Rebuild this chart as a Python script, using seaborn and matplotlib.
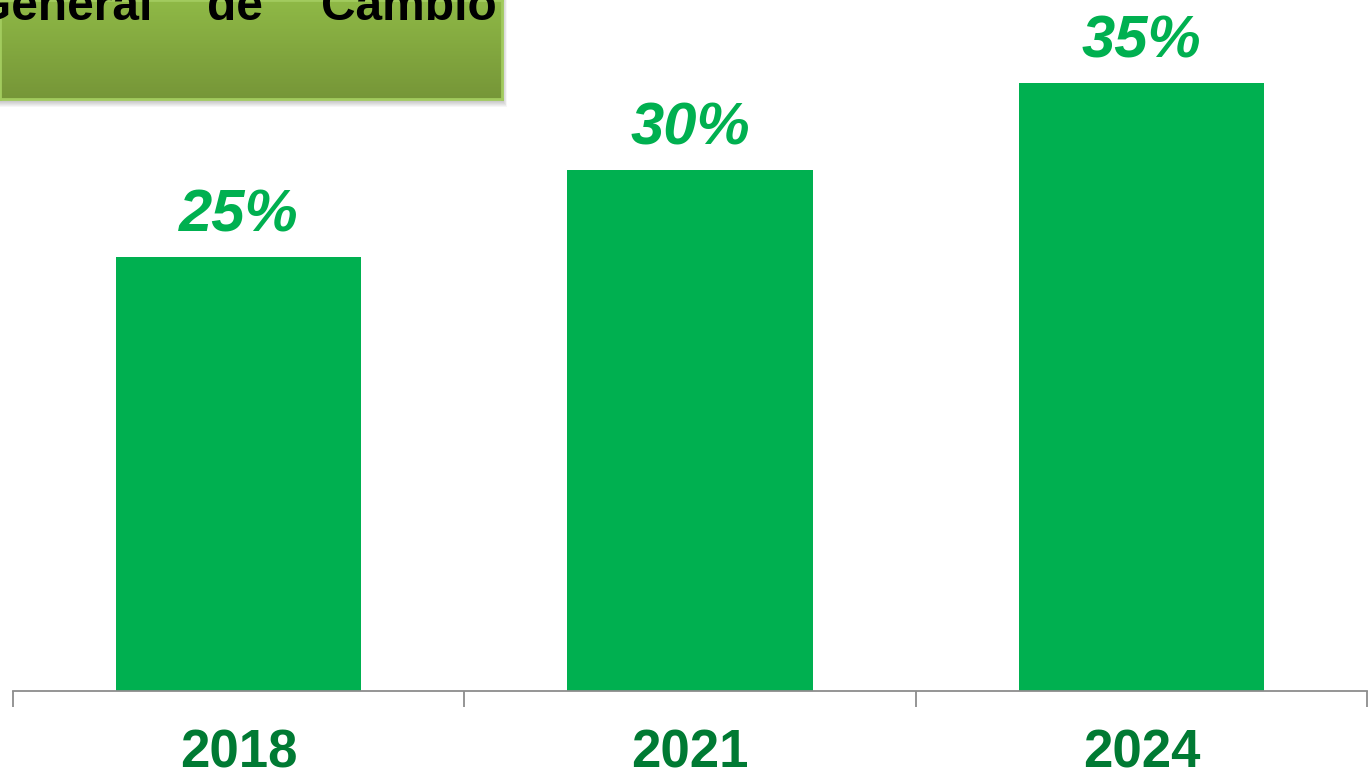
import matplotlib
matplotlib.use("Agg")
import matplotlib.pyplot as plt
import seaborn as sns
import numpy as np
import pandas as pd
from matplotlib.patches import Rectangle

years = ["2018", "2021", "2024"]
values = [25, 30, 35]
value_labels = ["25%", "30%", "35%"]
title_words = ["General", "de", "Cambio"]

sns.set_theme(style="white")
plt.rcParams['font.family'] = ['Liberation Sans', 'DejaVu Sans']

W, H = 1372, 776
fig = plt.figure(figsize=(W / 100, H / 100), dpi=100)
fig.patch.set_facecolor("white")

# main axes: baseline at y=691px, x from 13 to 1367
ymax = 40
px_per_unit = 17.36
ax_h = ymax * px_per_unit
ax = fig.add_axes([13 / W, (H - 691) / H, 1354 / W, ax_h / H])

df = pd.DataFrame({"year": years, "value": values})
sns.barplot(data=df, x="year", y="value", color="#00B050", saturation=1,
            width=0.543, ax=ax, edgecolor="none")
ax.set_xlim(-0.5, 2.5)
ax.set_ylim(0, ymax)
ax.set_facecolor("none")
for s in ["left", "right", "top"]:
    ax.spines[s].set_visible(False)
ax.spines["bottom"].set_color("#8C8C8C")
ax.spines["bottom"].set_linewidth(1.3)
ax.set_yticks([])
ax.set_xlabel("")
ax.set_ylabel("")
ax.set_xticks(np.arange(len(years)))
ax.set_xticklabels(years, fontsize=38, fontweight="bold", color="#007A33")
ax.tick_params(axis="x", which="major", length=0, pad=27)
ax.set_xticks(np.arange(-0.5, len(years)), minor=True)
ax.tick_params(axis="x", which="minor", length=11.5, width=1.3, color="#8C8C8C",
               direction="out", bottom=True)

for i, (v, lab) in enumerate(zip(values, value_labels)):
    ax.annotate(lab, xy=(i, v), xytext=(0, 18.5), textcoords="offset points",
                ha="center", va="baseline", fontsize=43, fontweight="bold",
                fontstyle="italic", color="#00B050")

# title box with gradient and soft shadow
bx0, bx1, by = 0, 502, 99  # px
for k in range(8):
    off = 8 - k
    fig.patches.append(Rectangle((bx0 / W, (H - by - off) / H),
                                 (bx1 - bx0 + off * 0.6) / W, (by + off) / H,
                                 transform=fig.transFigure, facecolor="black",
                                 alpha=0.035, edgecolor="none", zorder=1))
bax = fig.add_axes([bx0 / W, (H - by) / H, (bx1 - bx0) / W, by / H], zorder=2)
top_c = np.array([0x8F, 0xB9, 0x46]) / 255
bot_c = np.array([0x76, 0x96, 0x38]) / 255
t = np.linspace(0, 1, 100)[:, None]
grad = top_c[None, :] * (1 - t) + bot_c[None, :] * t
bax.imshow(grad[:, None, :], aspect="auto", extent=(0, 1, 0, 1))
bax.set_xticks([])
bax.set_yticks([])
for s in bax.spines.values():
    s.set_color("#A2CB5E")
    s.set_linewidth(2)

ty = 1 - 20 / H
fig.text(152 / W, ty, title_words[0], ha="right", va="baseline", fontsize=34.5,
         fontweight="bold", color="black", zorder=5)
fig.text(235 / W, ty, title_words[1], ha="center", va="baseline", fontsize=34.5,
         fontweight="bold", color="black", zorder=5)
fig.text(497 / W, ty, title_words[2], ha="right", va="baseline", fontsize=34.5,
         fontweight="bold", color="black", zorder=5)

fig.savefig("out.png", dpi=100, facecolor="white")
